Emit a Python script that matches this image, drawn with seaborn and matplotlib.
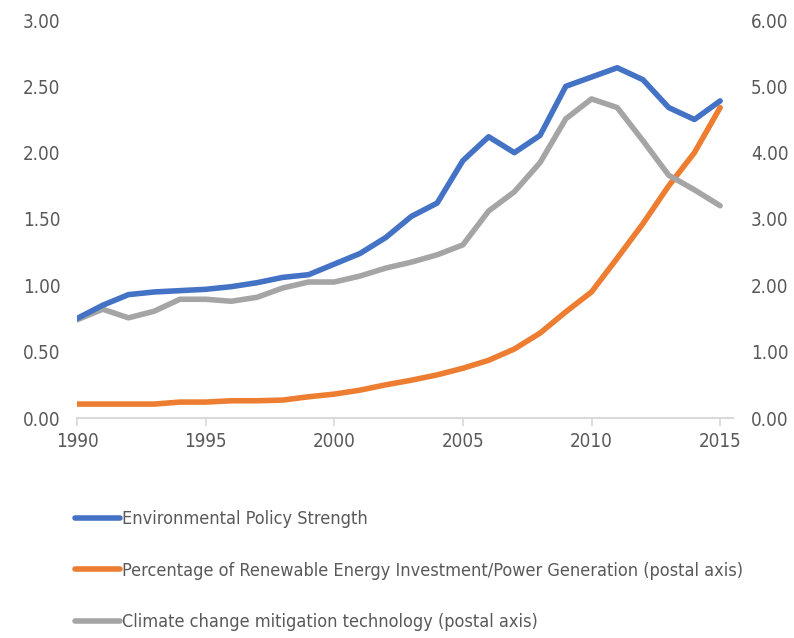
import matplotlib
matplotlib.use("Agg")
import matplotlib.pyplot as plt
import seaborn as sns
import pandas as pd
from matplotlib import font_manager

years = list(range(1990, 2016))
policy_strength = [0.75, 0.85, 0.93, 0.95, 0.96, 0.97, 0.99, 1.02, 1.06, 1.08,
                   1.16, 1.24, 1.36, 1.52, 1.62, 1.94, 2.12, 2.00, 2.13, 2.50,
                   2.57, 2.64, 2.55, 2.34, 2.25, 2.39]
renewable_pct = [0.21, 0.21, 0.21, 0.21, 0.24, 0.24, 0.26, 0.26, 0.27, 0.32,
                 0.36, 0.42, 0.50, 0.57, 0.65, 0.75, 0.87, 1.04, 1.28, 1.60,
                 1.90, 2.41, 2.93, 3.50, 4.00, 4.68]
mitigation_tech = [1.48, 1.64, 1.51, 1.61, 1.79, 1.79, 1.76, 1.82, 1.96, 2.05,
                   2.05, 2.14, 2.26, 2.35, 2.46, 2.61, 3.12, 3.41, 3.85, 4.51,
                   4.81, 4.68, 4.18, 3.66, 3.44, 3.20]
labels = ["Environmental Policy Strength",
          "Percentage of Renewable Energy Investment/Power Generation (postal axis)",
          "Climate change mitigation technology (postal axis)"]
left_ticks = [0, 0.5, 1.0, 1.5, 2.0, 2.5, 3.0]
right_ticks = [0, 1, 2, 3, 4, 5, 6]
x_ticks = [1990, 1995, 2000, 2005, 2010, 2015]

sns.set_theme(style="white")
names = {f.name for f in font_manager.fontManager.ttflist}
fam = "Liberation Sans Narrow" if "Liberation Sans Narrow" in names else "DejaVu Sans"
plt.rcParams["font.family"] = [fam, "DejaVu Sans"]
plt.rcParams["font.stretch"] = "condensed"

df = pd.DataFrame({"year": years, "policy": policy_strength,
                   "renew": renewable_pct, "tech": mitigation_tech})

fig = plt.figure(figsize=(7.94, 6.38), dpi=100)
ax = fig.add_axes([77/794, 1 - 418/638, (733-77)/794, (418-20)/638])
ax2 = ax.twinx()

blue, orange, gray = "#4472C4", "#ED7D31", "#A5A5A5"
lw = 4
sns.lineplot(data=df, x="year", y="renew", ax=ax2, color=orange, linewidth=lw, label=labels[1], legend=False)
sns.lineplot(data=df, x="year", y="tech", ax=ax2, color=gray, linewidth=lw, label=labels[2], legend=False)
sns.lineplot(data=df, x="year", y="policy", ax=ax, color=blue, linewidth=lw, label=labels[0], legend=False)
ax.set_zorder(ax2.get_zorder() + 1)
ax.patch.set_visible(False)

ax.set_xlim(1990, 2015.5)
ax.set_ylim(0, 3)
ax2.set_ylim(0, 6)
ax.set_yticks(left_ticks)
ax.set_yticklabels([f"{v:.2f}" for v in left_ticks])
ax2.set_yticks(right_ticks)
ax2.set_yticklabels([f"{v:.2f}" for v in right_ticks])
ax.set_xticks(x_ticks)
ax.set_xticklabels([str(v) for v in x_ticks])
ax.set_xlabel("")
ax.set_ylabel("")
ax2.set_ylabel("")

tc = "#595959"
for a in (ax, ax2):
    for s in a.spines.values():
        s.set_visible(False)
    a.tick_params(axis="y", length=0, labelsize=13.5, colors=tc)
ax.tick_params(axis="y", pad=12)
ax2.tick_params(axis="y", pad=13)
ax.spines["bottom"].set_visible(True)
ax.spines["bottom"].set_color("#D9D9D9")
ax.spines["bottom"].set_linewidth(1.5)
ax.tick_params(axis="x", length=6, width=1.2, color="#D9D9D9", labelsize=13.5,
               labelcolor=tc, pad=4, bottom=True, direction="out")

h1, l1 = ax.get_legend_handles_labels()
h2, l2 = ax2.get_legend_handles_labels()
handles = [h1[0], h2[0], h2[1]]
leg = fig.legend(handles, labels, loc="upper left", bbox_to_anchor=(68/794, 1 - 503/638),
                 frameon=False, fontsize=13, labelcolor=tc, handlelength=2.5,
                 handletextpad=0.1, labelspacing=1.85, borderaxespad=0)

fig.savefig("out.png", dpi=100)
